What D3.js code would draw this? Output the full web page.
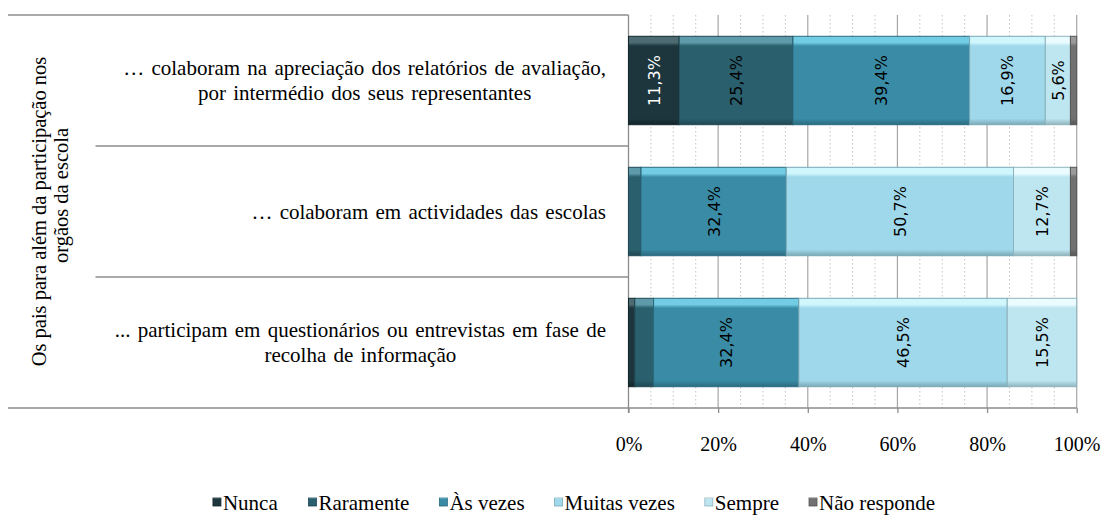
<!DOCTYPE html>
<html>
<head>
<meta charset="utf-8">
<script src="https://cdn.jsdelivr.net/npm/d3@7"></script>
<style>
  html, body { margin: 0; padding: 0; background: #fff; }
  svg { display: block; }
  svg text { font-family: 'Liberation Serif', 'Times New Roman', serif; }
</style>
</head>
<body>
<svg class="vis" width="1102" height="515"></svg>
<script>

// ---- data ----
const categories = [
  "… colaboram na apreciação dos relatórios de avaliação,|por intermédio dos seus representantes",
  "… colaboram em actividades das escolas",
  "... participam em questionários ou entrevistas em fase de|recolha de informação"
];

const series = ["Nunca", "Raramente", "Às vezes", "Muitas vezes", "Sempre", "Não responde"];

const nunca       = [11.3, 0.0, 1.4];
const raramente   = [25.4, 2.8, 4.2];
const asVezes     = [39.4, 32.4, 32.4];
const muitasVezes = [16.9, 50.7, 46.5];
const sempre      = [5.6, 12.7, 15.5];
const naoResponde = [1.4, 1.4, 0.0];

const xTicks = [0, 20, 40, 60, 80, 100];
const groupLabel = ["Os pais para além da participação  nos", "orgãos da escola"];

// ---- styles ----
const colors = {
  "Nunca":        { base: "#1d363d", top: "#4d6b72", edge: "#12262b", text: "#ffffff" },
  "Raramente":    { base: "#2a5f6d", top: "#5e9aa9", edge: "#1f4853", text: "#000000" },
  "Às vezes":     { base: "#3a8ca6", top: "#72cde4", edge: "#2b6a7e", text: "#000000" },
  "Muitas vezes": { base: "#9fd8ea", top: "#d0f7fd", edge: "#7aa9b6", text: "#000000" },
  "Sempre":       { base: "#bee6f1", top: "#eafcff", edge: "#8fb3bc", text: "#000000" },
  "Não responde": { base: "#717171", top: "#9a9a9a", edge: "#565656", text: "#000000" }
};

const serif = "'Liberation Serif', 'Times New Roman', serif";
const sans = "'DejaVu Sans', Verdana, sans-serif";

const v = {
  dims: { left: 628.5, right: 1076.7, top: 15, bottom: 408, frameLeft: 8, sepLeft: 95.5 },

  table: () => {
    const cols = [nunca, raramente, asVezes, muitasVezes, sempre, naoResponde];
    return categories.map((c, i) => {
      const row = { cat: c };
      series.forEach((s, j) => row[s] = cols[j][i]);
      return row;
    });
  },

  render: () => {
    const d = v.dims;
    const svg = d3.select("svg.vis");

    const x = d3.scaleLinear().domain([0, 100]).range([d.left, d.right]);
    const y = d3.scaleBand().domain(categories).range([d.top, d.bottom])
      .paddingInner(0.325).paddingOuter(0.1625);

    // gradients for the bevel look
    const defs = svg.append("defs");
    series.forEach((s, i) => {
      const c = colors[s];
      const g = defs.append("linearGradient").attr("id", "g" + i)
        .attr("x1", 0).attr("y1", 0).attr("x2", 0).attr("y2", 1);
      g.append("stop").attr("offset", "0%").attr("stop-color", c.top);
      g.append("stop").attr("offset", "7%").attr("stop-color", c.top);
      g.append("stop").attr("offset", "11%").attr("stop-color", c.base);
      g.append("stop").attr("offset", "93%").attr("stop-color", c.base);
      g.append("stop").attr("offset", "100%").attr("stop-color", c.edge);
    });

    // minor dotted grid (every 5%)
    const minor = d3.range(0, 101, 5).filter(t => t % 20 !== 0);
    svg.append("g").selectAll("line").data(minor).join("line")
      .attr("x1", t => x(t)).attr("x2", t => x(t))
      .attr("y1", d.top).attr("y2", d.bottom)
      .attr("stroke", "#c4c4c4").attr("stroke-width", 1)
      .attr("stroke-dasharray", "1.5,2.5");

    // major grid
    svg.append("g").selectAll("line").data(xTicks.slice(1)).join("line")
      .attr("x1", t => x(t)).attr("x2", t => x(t))
      .attr("y1", d.top).attr("y2", d.bottom)
      .attr("stroke", "#a6a6a6").attr("stroke-width", 1.2);

    // bottom axis
    const xAxis = d3.axisBottom(x).tickValues(xTicks)
      .tickFormat(t => t + "%").tickSize(5).tickPadding(24);
    const ax = svg.append("g").attr("transform", `translate(0,${d.bottom})`).call(xAxis);
    ax.select(".domain").remove();
    ax.selectAll(".tick line").attr("stroke", "#8c8c8c").attr("stroke-width", 1.3);
    ax.selectAll(".tick text").attr("font-family", serif).attr("font-size", 20).attr("fill", "#000");

    // left frame lines
    svg.append("line").attr("x1", d.frameLeft).attr("x2", d.left)
      .attr("y1", d.top).attr("y2", d.top).attr("stroke", "#8c8c8c").attr("stroke-width", 1.3);
    svg.append("line").attr("x1", d.frameLeft).attr("x2", d.right)
      .attr("y1", d.bottom).attr("y2", d.bottom).attr("stroke", "#8c8c8c").attr("stroke-width", 1.3);
    const seps = categories.slice(1).map(c => y(c) - y.step() * y.paddingInner() / 2);
    svg.append("g").selectAll("line").data(seps).join("line")
      .attr("x1", d.sepLeft).attr("x2", d.left)
      .attr("y1", s => s).attr("y2", s => s)
      .attr("stroke", "#8c8c8c").attr("stroke-width", 1.3);
    svg.append("line").attr("x1", d.left).attr("x2", d.left)
      .attr("y1", d.top).attr("y2", d.bottom + 5).attr("stroke", "#8c8c8c").attr("stroke-width", 1.3);

    // bars
    const stacked = d3.stack().keys(series)(v.table());
    const layers = svg.append("g").selectAll("g").data(stacked).join("g")
      .attr("fill", (s, i) => `url(#g${i})`)
      .attr("stroke", s => colors[s.key].edge);

    layers.selectAll("rect").data(s => s.filter(p => p[1] - p[0] > 0)).join("rect")
      .attr("x", p => x(p[0]))
      .attr("y", p => y(p.data.cat))
      .attr("width", p => x(p[1]) - x(p[0]))
      .attr("height", y.bandwidth())
      .attr("stroke-width", 1);

    // value labels (only segments of 5% or more)
    const fmt = n => n.toFixed(1).replace(".", ",") + "%";
    stacked.forEach(s => {
      svg.append("g").selectAll("text").data(s.filter(p => p[1] - p[0] >= 5)).join("text")
        .attr("transform", p => `translate(${x((p[0] + p[1]) / 2) + 6},${y(p.data.cat) + y.bandwidth() / 2}) rotate(-90)`)
        .attr("text-anchor", "middle")
        .style("font-family", sans).attr("font-size", 16)
        .attr("fill", colors[s.key].text)
        .text(p => fmt(p[1] - p[0]));
    });

    // category labels, lines centred inside a right-aligned block
    const labelRight = 606;
    const lh = 25;
    categories.forEach(c => {
      const lines = c.split("|");
      const g = svg.append("g");
      const texts = g.selectAll("text").data(lines).join("text")
        .attr("font-size", 21).attr("word-spacing", 2).attr("fill", "#000")
        .attr("text-anchor", "middle")
        .attr("y", (l, i) => y(c) + y.bandwidth() / 2 + 7 + (i - (lines.length - 1) / 2) * lh)
        .text(l => l);
      const wMax = d3.max(texts.nodes(), n => n.getComputedTextLength());
      texts.attr("x", labelRight - wMax / 2);
    });

    // group label (rotated)
    const gy = (d.top + d.bottom) / 2;
    svg.append("g").selectAll("text").data(groupLabel).join("text")
      .attr("transform", (l, i) => `translate(${46 + i * 22},${gy - i * 16}) rotate(-90)`)
      .attr("text-anchor", "middle")
      .attr("font-size", 20.5).attr("fill", "#000")
      .text(l => l);

    // legend
    const leg = svg.append("g");
    const items = leg.selectAll("g").data(series).join("g");
    items.append("rect").attr("width", 8).attr("height", 8).attr("y", -12)
      .attr("fill", (s, i) => `url(#g${i})`).attr("stroke", s => colors[s].edge).attr("stroke-width", 0.8);
    items.append("text").attr("x", 10).attr("y", 0)
      .attr("font-size", 21).attr("fill", "#000")
      .text(s => s);
    let pos = 0;
    const offs = [];
    const gap = 30;
    items.each(function () {
      offs.push(pos);
      pos += this.getBBox().width + gap;
    });
    const total = pos - gap;
    const start = 574 - total / 2;
    items.attr("transform", (s, i) => `translate(${start + offs[i]},510)`);
  }
};

v.render();
</script>
</body>
</html>
